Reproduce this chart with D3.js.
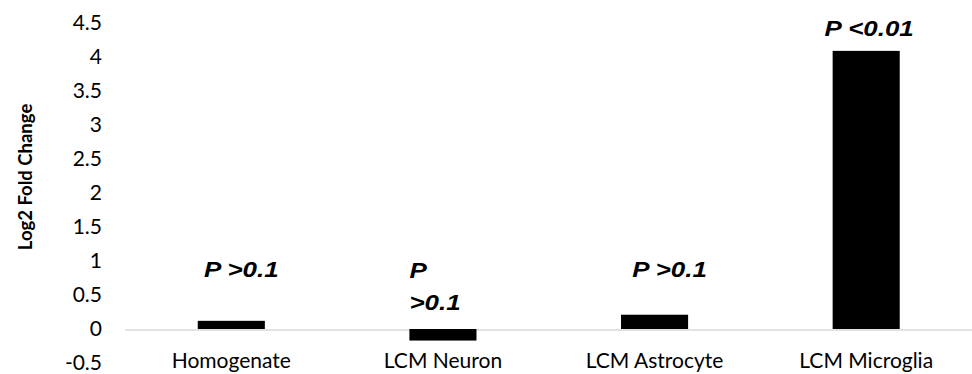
<!DOCTYPE html>
<html>
<head>
<meta charset="utf-8">
<script src="https://cdn.jsdelivr.net/npm/d3@7"></script>
<style>
  body{margin:0;background:#fff;}
  .maintable{width:972px;height:374px;}
</style>
</head>
<body>
<div class="maintable"></div>
<script>
// 数据
var categories = ["Homogenate","LCM Neuron","LCM Astrocyte","LCM Microglia"];
var foldChange = [0.12,-0.17,0.21,4.09];
var pLabels = [["P >0.1"],["P",">0.1"],["P >0.1"],["P <0.01"]];
var yTicks = [-0.5,0,0.5,1,1.5,2,2.5,3,3.5,4,4.5];

// 标签摆放 (相对柱顶, 像素)
var labelPos = [
  {dx:10,dy:-44,anchor:"middle"},
  {dx:0,dy:-51,anchor:"start"},
  {dx:15,dy:-38,anchor:"middle"},
  {dx:3,dy:-15,anchor:"middle"}
];

var W = 972, H = 374;

var x = d3.scaleBand()
  .domain(categories)
  .range([125.5,972])
  .paddingInner(0.683)
  .paddingOuter(0.3415);

var y = d3.scaleLinear()
  .domain([-0.5,4.5])
  .range([363,23]);

var svg = d3.select(".maintable").append("svg")
  .attr("width",W)
  .attr("height",H);

// 零线
svg.append("line")
  .attr("x1",125)
  .attr("x2",972)
  .attr("y1",y(0)+1)
  .attr("y2",y(0)+1)
  .attr("stroke","#d9d9d9")
  .attr("stroke-width",1.5);

// 柱子
svg.append("g").selectAll("rect")
  .data(foldChange)
  .enter().append("rect")
  .attr("x",function(d,i){return x(categories[i]);})
  .attr("width",x.bandwidth())
  .attr("y",function(d){return y(Math.max(d,0));})
  .attr("height",function(d){return Math.abs(y(d)-y(0));})
  .attr("fill","#000");

// y轴
svg.append("g")
  .attr("transform","translate(102,0)")
  .call(d3.axisLeft(y).tickValues(yTicks).tickSize(0).tickPadding(0).tickFormat(function(d){return String(d);}))
  .each(function(){
    var g = d3.select(this);
    g.select(".domain").remove();
    g.selectAll("text")
      .attr("font-family","Lato")
      .attr("font-size","21px")
      .attr("fill","#000");
  });

// x轴
svg.append("g")
  .call(d3.axisBottom(x).tickSize(0))
  .each(function(){
    var g = d3.select(this);
    g.select(".domain").remove();
    g.selectAll("text")
      .attr("y",368)
      .attr("dy",0)
      .attr("font-family","Lato")
      .attr("font-size","21px")
      .attr("fill","#000");
  });

// y轴标题
svg.append("text")
  .attr("transform","translate(32,177) rotate(-90)")
  .attr("text-anchor","middle")
  .attr("font-family","Lato")
  .attr("font-weight","bold")
  .attr("font-size","18.5px")
  .attr("fill","#000")
  .text("Log2 Fold Change");

// P值标签
pLabels.forEach(function(lines,i){
  var p = labelPos[i];
  var bx = p.anchor=="start" ? x(categories[i]) : x(categories[i])+x.bandwidth()/2;
  var by = y(Math.max(foldChange[i],0));
  lines.forEach(function(t,j){
    svg.append("text")
      .attr("transform","translate("+(bx+p.dx)+","+(by+p.dy+j*32)+") scale(1.18,1)")
      .attr("text-anchor",p.anchor)
      .attr("font-family","Liberation Sans")
      .attr("font-weight","bold")
      .attr("font-style","italic")
      .attr("font-size","22px")
      .attr("fill","#000")
      .text(t);
  });
});
</script>
</body>
</html>
